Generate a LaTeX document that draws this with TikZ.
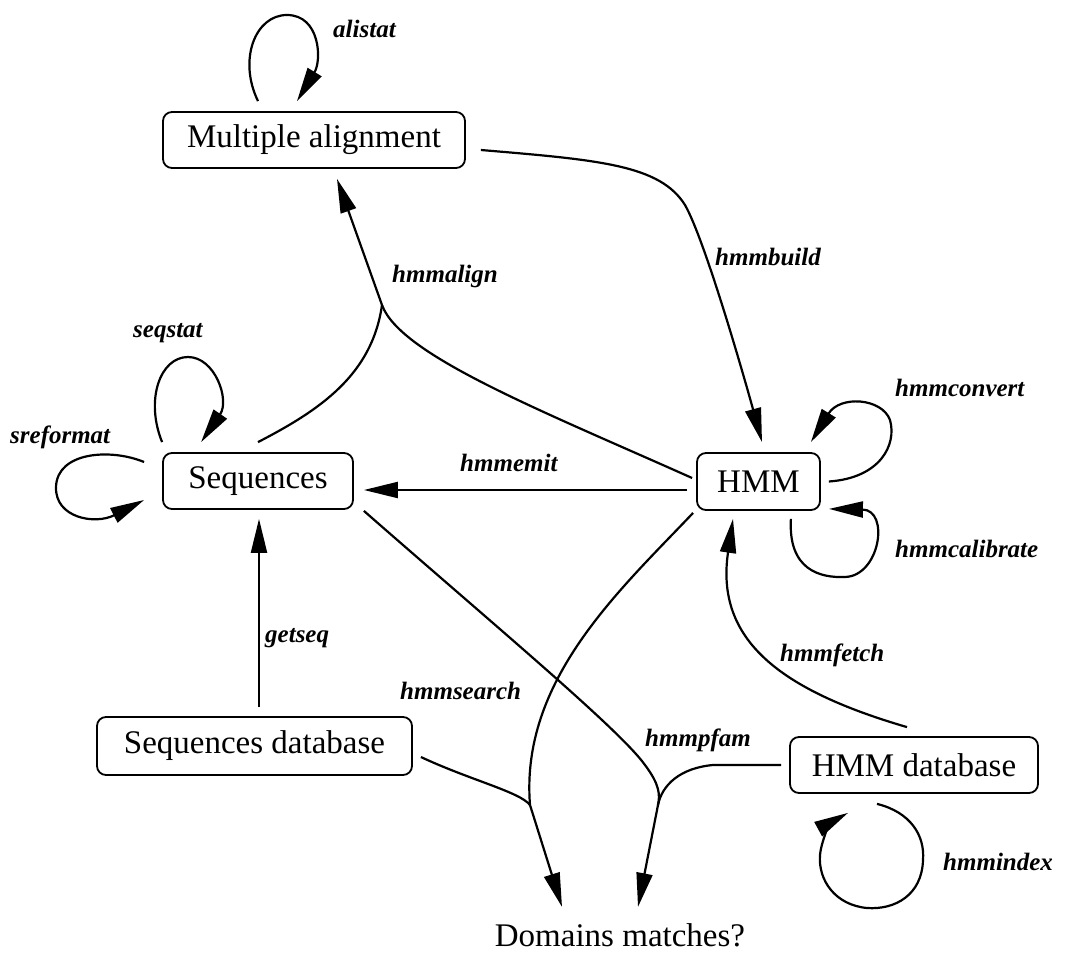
\documentclass[tikz,border=0pt]{standalone}
\usepackage{fontspec}
\setmainfont{Liberation Serif}
\usetikzlibrary{arrows.meta,calc}

\begin{document}
\begin{tikzpicture}[
  x=1pt, y=-1pt,
  box/.style={draw, line width=1.8pt, rounded corners=9pt, inner sep=0pt,
              font=\fontsize{33}{38}\selectfont},
  cmd/.style={anchor=base west, inner sep=0pt,
              font=\fontsize{25}{30}\selectfont\bfseries\itshape},
  link/.style={line width=2.2pt},
  arr/.style={link, -{Triangle[length=34pt,width=16pt]}}
]
\fill[white] (0,0) rectangle (1066,953);
\useasboundingbox (0,0) rectangle (1066,953);

% data objects
\node[box, minimum width=302pt, minimum height=56pt] (ma)  at (314,140)   {Multiple alignment};
\node[box, minimum width=190pt, minimum height=56pt] (seq) at (258,481)   {Sequences};
\node[box, minimum width=123pt, minimum height=57pt] (hmm) at (758.5,481.5) {HMM};
\node[box, minimum width=315pt, minimum height=58pt] (sdb) at (254.5,746) {Sequences database};
\node[box, minimum width=248pt, minimum height=56pt] (hdb) at (914,765)   {HMM database};
\node[anchor=base, inner sep=0pt, font=\fontsize{33}{38}\selectfont] (dom) at (620,946) {Domains matches?};

% junction points where two inputs merge
\coordinate (ja) at (382,305);
\coordinate (js) at (530,805);
\coordinate (jp) at (658,805);

% self loops
\draw[arr] ($(ma.north)+(-56,-10)$) .. controls (238,60) and (255,15) .. (287,15)
           .. controls (320,15) and (322,60) .. ($(ma.north)+(-17,-10)$);
\draw[arr] ($(seq.north west)+(0,-10)$) .. controls (145,400) and (160,357) .. (188,357)
           .. controls (215,357) and (230,400) .. ($(seq.north west)+(39,-10)$);
\draw[arr] ($(seq.west)+(-18,-19)$) .. controls (110,448) and (57,452) .. (56,487)
           .. controls (55,518) and (95,525) .. ($(seq.west)+(-18,19)$);
\draw[arr] ($(hmm.east)+(8,0)$) .. controls (880,478) and (897,445) .. (890,420)
           .. controls (882,398) and (840,395) .. ($(hmm.north east)+(-10,-10)$);
\draw[arr] ($(hmm.south east)+(-30,8)$) .. controls (788,570) and (820,578) .. (845,577)
           .. controls (880,576) and (890,510) .. ($(hmm.south east)+(8,-2)$);
\draw[arr] ($(hdb.south)+(-37,10)$) .. controls (910,812) and (925,835) .. (923,860)
           .. controls (922,895) and (895,910) .. (867,908)
           .. controls (835,905) and (818,880) .. (820,855)
           .. controls (822,835) and (835,820) .. ($(hdb.south)+(-66,19)$);

% programs between objects
\draw[arr] ($(hmm.west)+(-9,8.5)$) -- ($(seq.east)+(10,9)$);
\draw[arr] ($(sdb.north)+(4.5,-9)$) -- ($(seq.south)+(1,9)$);
\draw[arr] ($(ma.east)+(15,10)$) .. controls (600,160) and (660,165) .. (685,205)
           .. controls (705,240) and (745,380) .. ($(hmm.north)+(3.5,-10)$);
\draw[link] ($(seq.north)+(0,-10)$) .. controls (320,410) and (372,375) .. (ja);
\draw[arr] ($(hmm.west)+(-4,-3.5)$) .. controls (540,410) and (400,355) .. (ja)
           -- ($(ma.south)+(23,10)$);
\draw[arr] ($(hmm.south west)+(-3,2)$) .. controls (620,590) and (520,680) .. (js)
           -- ($(dom.north)+(-58,-16)$);
\draw[link] ($(sdb.east)+(8,11)$) .. controls (470,780) and (520,792) .. (js);
\draw[arr] ($(seq.south east)+(10,1)$) .. controls (500,630) and (620,730) .. (645,765)
           .. controls (660,785) and (660,795) .. (jp) -- ($(dom.north)+(18,-16)$);
\draw[link] ($(hdb.west)+(-8,0)$) -- (713,765) .. controls (680,768) and (662,785) .. (jp);
\draw[arr] ($(hdb.north)+(-7,-9)$) .. controls (780,690) and (715,640) .. ($(hmm.south)+(-25.5,8)$);

% program names
\node[cmd] (l-alistat)   at (333,37)  {alistat};
\node[cmd] (l-build)     at (715,265) {hmmbuild};
\node[cmd] (l-align)     at (392,282) {hmmalign};
\node[cmd] (l-seqstat)   at (133,337) {seqstat};
\node[cmd] (l-sref)      at (10,443)  {sreformat};
\node[cmd] (l-emit)      at (460,471) {hmmemit};
\node[cmd] (l-convert)   at (895,396) {hmmconvert};
\node[cmd] (l-calib)     at (895,557) {hmmcalibrate};
\node[cmd] (l-getseq)    at (265,642) {getseq};
\node[cmd] (l-fetch)     at (780,661) {hmmfetch};
\node[cmd] (l-search)    at (400,699) {hmmsearch};
\node[cmd] (l-pfam)      at (645,746) {hmmpfam};
\node[cmd] (l-index)     at (943,870) {hmmindex};
\end{tikzpicture}
\end{document}
